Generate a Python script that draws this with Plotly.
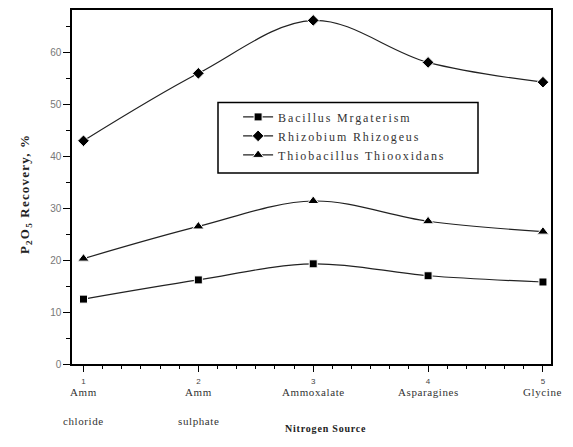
import plotly.graph_objects as go

x_pos = [1, 2, 3, 4, 5]
cat_line1 = ["Amm", "Amm", "Ammoxalate", "Asparagines", "Glycine"]
cat_line2 = ["chloride", "sulphate", "", "", ""]
tick_nums = ["1", "2", "3", "4", "5"]

series_names = ["Bacillus Mrgaterism", "Rhizobium Rhizogeus", "Thiobacillus Thiooxidans"]
bacillus = [12.5, 16.2, 19.3, 17.0, 15.8]
rhizobium = [43.0, 56.0, 66.2, 58.1, 54.3]
thiobacillus = [20.3, 26.5, 31.4, 27.5, 25.5]
symbols = ["square", "diamond", "triangle-up"]
sizes = [8, 9, 10]

fig = go.Figure()
for name, vals, sym, sz in zip(series_names, [bacillus, rhizobium, thiobacillus], symbols, sizes):
    fig.add_trace(go.Scatter(
        x=x_pos, y=vals, mode="lines+markers",
        name='<span style="letter-spacing:1.85px">' + name + '</span>',
        line=dict(color="#222", width=1.2, shape="spline", smoothing=1.0),
        marker=dict(symbol=sym, size=sz, color="black", line=dict(color="white", width=1)),
    ))

serif = "Liberation Serif"
annotations = []
for xv, l1, l2 in zip(x_pos, cat_line1, cat_line2):
    annotations.append(dict(x=xv, xref="x", y=0, yref="paper", yshift=-28,
                            text='<span style="letter-spacing:0.6px">' + l1 + '</span>',
                            showarrow=False, yanchor="middle", xanchor="center",
                            font=dict(family=serif, size=11, color="#333")))
    if l2:
        annotations.append(dict(x=xv, xref="x", y=0, yref="paper", yshift=-57,
                                text='<span style="letter-spacing:0.6px">' + l2 + '</span>',
                                showarrow=False, yanchor="middle", xanchor="center",
                                font=dict(family=serif, size=11, color="#333")))
annotations.append(dict(x=0.53, xref="paper", y=0, yref="paper", yshift=-64,
                        text='<b><span style="letter-spacing:0.8px">Nitrogen Source</span></b>',
                        showarrow=False, yanchor="middle",
                        font=dict(family=serif, size=10, color="#222")))
annotations.append(dict(x=0, xref="paper", xshift=-47, y=0.48, yref="paper",
                        text='<b><span style="letter-spacing:1.2px">P<sub>2</sub>O<sub>5</sub> Recovery, %</span></b>',
                        textangle=-90,
                        showarrow=False, xanchor="center", yanchor="middle",
                        font=dict(family=serif, size=13, color="#222")))

fig.update_layout(
    width=573, height=447,
    margin=dict(l=72, r=22, t=8, b=83),
    paper_bgcolor="white", plot_bgcolor="white",
    showlegend=True,
    legend=dict(x=0.305, y=0.739, xanchor="left", yanchor="top",
                borderwidth=0, bgcolor="rgba(0,0,0,0)",
                font=dict(family=serif, size=12, color="#333"),
                indentation=20, tracegroupgap=0),
    shapes=[dict(type="rect", xref="paper", yref="paper",
                 x0=0.3048, x1=0.8476, y0=0.5393, y1=0.7388,
                 line=dict(color="black", width=1.5), fillcolor="white", layer="above")],
    annotations=annotations,
)
fig.update_xaxes(
    range=[0.9, 5.07], tickvals=x_pos, ticktext=tick_nums,
    tickfont=dict(family="Liberation Sans", size=8, color="#444"),
    ticks="outside", ticklen=6, tickwidth=1.3, tickcolor="black",
    minor=dict(dtick=1/6, tick0=1, ticks="outside", ticklen=3, tickwidth=1.2, tickcolor="black"),
    showline=True, linecolor="black", linewidth=1.5, mirror=True,
    showgrid=False, zeroline=False, ticklabelstandoff=3,
)
fig.update_yaxes(
    range=[0, 68.2], tickvals=[0, 10, 20, 30, 40, 50, 60],
    tickfont=dict(family="Liberation Sans", size=10, color="#777"),
    ticks="outside", ticklen=7, tickwidth=1.3, tickcolor="black",
    minor=dict(dtick=5, tick0=0, ticks="outside", ticklen=4, tickwidth=1.2, tickcolor="black"),
    showline=True, linecolor="black", linewidth=1.5, mirror=True,
    showgrid=False, zeroline=False,
)
fig.write_html("out.html")
